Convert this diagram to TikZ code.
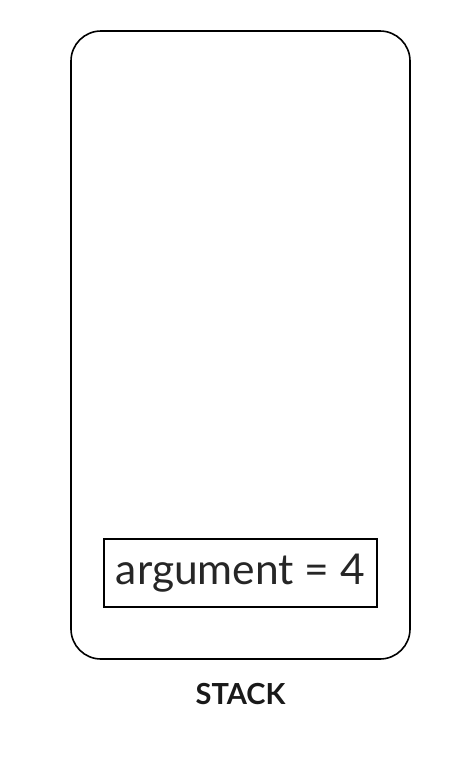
\documentclass[tikz,border=0pt]{standalone}
\usepackage{fontspec}
\setmainfont{Lato}
\usepackage{tikz}
\usetikzlibrary{positioning}

\begin{document}
\begin{tikzpicture}[
  x=1pt, y=-1pt,
  node distance=20pt,
  stackbox/.style={draw, line width=1.6pt, rounded corners=30pt, minimum width=339pt, minimum height=628pt, inner sep=0pt},
  valbox/.style={draw, line width=1.2pt, minimum width=273pt, minimum height=68pt, inner sep=0pt, font=\fontsize{42.5}{46}\selectfont, text=black!85},
  caption/.style={font=\fontsize{29}{32}\selectfont\bfseries, text=black!90}
]
\useasboundingbox (0,0) rectangle (472,764);
\node[stackbox] (stack) at (240.5,345) {};
\node[valbox] (arg) at (240.5,573) {argument = 4};
\node[caption, below=of stack] (label) {STACK};
\end{tikzpicture}
\end{document}
